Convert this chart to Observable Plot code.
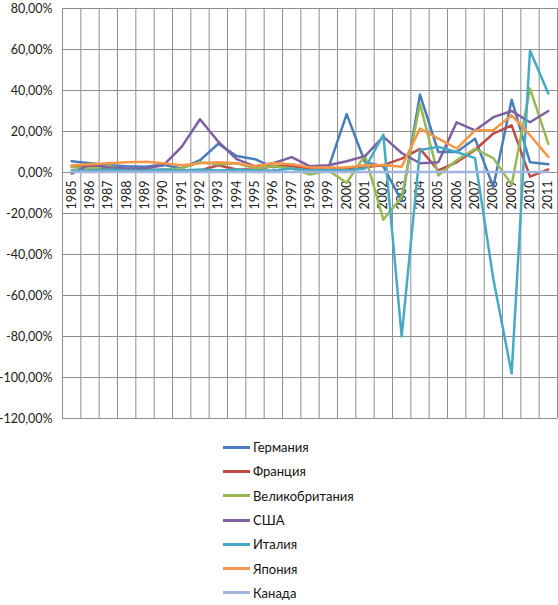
<!DOCTYPE html>
<html><head><meta charset="utf-8">
<script src="https://cdn.jsdelivr.net/npm/d3@7"></script>
<script src="https://cdn.jsdelivr.net/npm/@observablehq/plot@0.6"></script>
<style>
body{margin:0;background:#fff;font-family:Lato,"Open Sans",sans-serif;}
#chart svg{display:block;}
#legend{margin-top:9px;padding-left:223px;}
.row{height:24.3px;display:flex;align-items:center;font-size:13px;color:#111;}
.sw{width:27px;height:3px;margin-right:3px;}
</style></head><body>
<div id="chart"></div><div id="legend"></div>
<script>
const years = [1985,1986,1987,1988,1989,1990,1991,1992,1993,1994,1995,1996,1997,1998,1999,2000,2001,2002,2003,2004,2005,2006,2007,2008,2009,2010,2011];
const series = ["Германия","Франция","Великобритания","США","Италия","Япония","Канада"];
const colors = ["#4A7EBB","#BE4B48","#98B954","#7D60A0","#46AAC5","#F79646","#A3B5DC"];
const yTicks = [-120,-100,-80,-60,-40,-20,0,20,40,60,80];

const germany = [5.5,4.5,3.5,3,2.8,3.8,2,6,14,8,6.5,2.5,4,2,2,28.5,5,3,-14,38,10,10,16.5,-7,35.5,5,4];
const france  = [3,3,2,1.5,1.5,1,0.5,1,3.5,1.5,1.5,3,3,2,2,2,2.5,3.6,6.8,11.5,1,5,11,19,23,-2,1.5];
const uk      = [2.5,2,3,1.5,1,1.5,2,5,4,4.5,2,3,2,-1,1,-5,8.4,-23,-12,33.5,-1.5,6,11.5,7,-6,41,14];
const usa     = [-0.5,4,2.5,2,2,3.5,12.5,26,15,6.5,3,4.5,7.5,3,3.5,5.5,8,17.5,9.5,4.5,5,24.5,20.5,27,30,24.5,30];
const italy   = [1,1,1.5,1,1,1.5,1,1.5,1,1.5,1,1,2,1,1.5,1,2,18.5,-80,11,12.5,10,7,-52,-98,59.5,38.5];
const japan   = [3.5,4,4.5,5,5.2,4.5,3.5,4.5,5,4.5,3,4.5,4,2.5,2.5,2.5,3.5,3.6,2.8,21.4,16.5,11.7,20.6,20.6,27.9,18.2,7.6];
const canada  = [0.3,0.3,0.3,0.3,0.3,0.3,0.3,0.3,0.3,0.3,0.3,0.3,0.3,0.3,0.3,0.3,0.3,0.3,0.3,0.3,0.3,0.3,0.3,0.3,0.3,0.3,0.3];

const valuesBySeries = [germany, france, uk, usa, italy, japan, canada];
const data = [];
series.forEach((name, s) => years.forEach((yr, i) => data.push({series: name, year: yr, value: valuesBySeries[s][i]})));

const x0 = years[0] - 0.5, x1 = years[years.length - 1] + 0.5;
const boundaries = years.map(y => y - 0.5).concat([x1]);
const fmt = d => d.toFixed(2).replace(".", ",") + "%";

const plot = Plot.plot({
  width: 558, height: 426,
  marginTop: 8, marginBottom: 8, marginLeft: 62, marginRight: 1,
  x: {domain: [x0, x1], axis: null},
  y: {domain: [-120, 80], axis: null},
  color: {domain: series, range: colors},
  style: {fontFamily: "Lato, 'Open Sans', sans-serif", fontSize: "12.5px", color: "#222", background: "#fff"},
  marks: [
    Plot.ruleY(yTicks, {stroke: "#8e8e8e", strokeWidth: 1}),
    Plot.ruleX(boundaries, {stroke: "#8e8e8e", strokeWidth: 1}),
    Plot.text(yTicks, {x: x0, y: d => d, text: fmt, textAnchor: "end", dx: -10, fill: "#222", fontSize: 12.5}),
    Plot.text(years, {x: d => d, y: 0, text: d => String(d), rotate: -90, textAnchor: "end", dy: 8, fill: "#222", fontSize: 12.5}),
    Plot.line(data, {x: "year", y: "value", z: "series", stroke: "series", strokeWidth: 2.5, strokeLinejoin: "round"})
  ]
});
document.getElementById("chart").appendChild(plot);

const legend = document.getElementById("legend");
series.forEach((name, i) => {
  const row = document.createElement("div");
  row.className = "row";
  const sw = document.createElement("div");
  sw.className = "sw";
  sw.style.background = colors[i];
  const t = document.createElement("span");
  t.textContent = name;
  row.appendChild(sw); row.appendChild(t);
  legend.appendChild(row);
});
</script>
</body></html>
